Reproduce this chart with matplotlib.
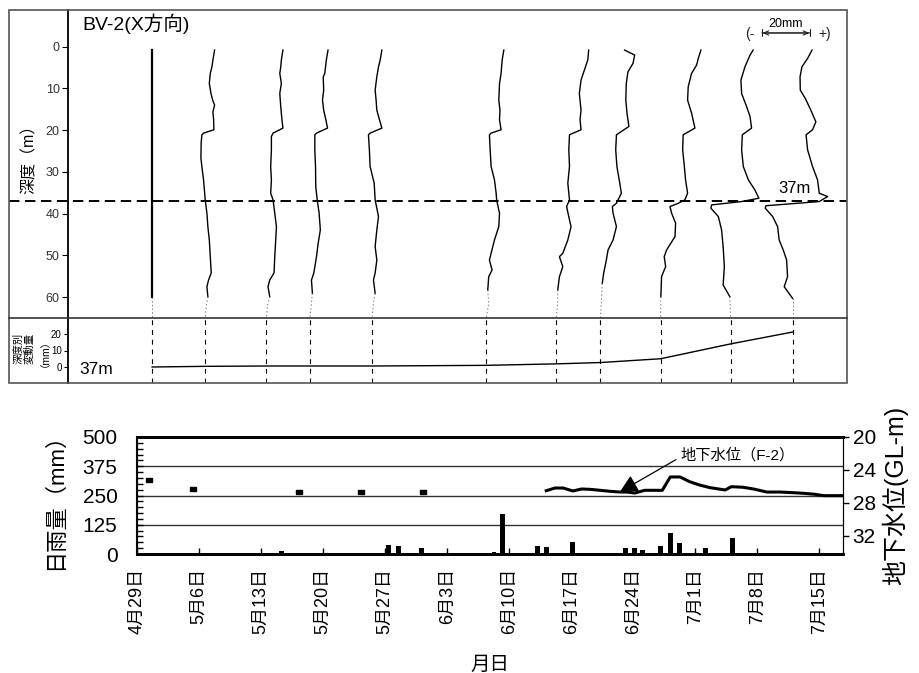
import matplotlib
matplotlib.use("Agg")
import matplotlib.pyplot as plt
from matplotlib.patches import Rectangle
from matplotlib.lines import Line2D
from matplotlib.ticker import MultipleLocator
from matplotlib.transforms import blended_transform_factory
import numpy as np

plt.rcParams['font.family'] = ['Liberation Sans', 'Noto Sans CJK JP', 'DejaVu Sans']
plt.rcParams['lines.scale_dashes'] = False

# ---------------- data ----------------
# measurement dates (days after 4/29)
meas_days = [1.7, 7.7, 14.6, 19.5, 26.5, 39.4, 47.3, 52.3, 59.1, 67.0, 74.0]
# displacement at 37 m (mm)
disp37 = [0.0, 0.4, 0.6, 0.6, 0.6, 1.0, 1.9, 2.7, 5.0, 14.0, 21.2]

# profiles: depth (m) and cumulative displacement (mm)
p1_depth = [0.8, 60.0, 65.4]
p1_disp = [0.0, 0.0, 0.0]
p2_depth = [0.8, 3.2, 4.8, 6.4, 8.8, 11.2, 12.8, 14.0, 15.6, 17.5, 19.9, 20.7, 21.1, 23.1, 26.7, 28.7, 31.9, 36.7, 39.9, 43.1, 46.3, 50.3, 54.2, 55.9, 57.5, 59.9, 62.2, 65.4]
p2_disp = [3.9, 3.2, 2.8, 2.1, 1.7, 2.4, 3.1, 3.9, 3.2, 3.5, 3.6, -0.7, -1.4, -1.7, -1.8, -1.4, -0.7, 0.0, 0.7, 1.1, 1.7, 2.1, 2.5, 1.4, 0.7, 1.1, 0.4, 0.0]
p3_depth = [0.8, 3.2, 4.8, 6.4, 8.8, 11.2, 14.4, 17.5, 19.5, 20.7, 21.5, 24.7, 28.7, 31.9, 35.1, 36.7, 39.9, 43.1, 46.3, 50.3, 54.2, 55.9, 57.5, 59.9, 62.2, 65.4]
p3_disp = [6.9, 6.25, 6.0, 5.6, 6.25, 5.6, 6.0, 6.5, 6.9, 2.8, 2.1, 2.1, 1.8, 2.1, 1.8, 2.8, 3.5, 4.2, 3.9, 3.5, 3.2, 1.4, 0.7, 1.4, 0.4, 0.0]
p4_depth = [0.8, 3.2, 6.4, 7.2, 10.4, 12.8, 15.2, 17.5, 19.5, 20.7, 21.1, 24.7, 28.7, 33.5, 36.7, 39.9, 43.9, 47.1, 50.3, 54.2, 55.9, 59.1, 61.5, 65.4]
p4_disp = [7.6, 6.9, 6.25, 5.6, 5.8, 5.3, 5.8, 6.7, 7.4, 2.8, 2.1, 2.1, 2.4, 2.5, 3.1, 3.9, 4.4, 3.5, 2.8, 1.7, 0.7, 1.1, 0.7, 0.0]
p5_depth = [0.8, 3.2, 4.8, 7.2, 10.4, 12.8, 15.2, 17.5, 19.5, 20.7, 21.1, 24.7, 28.7, 32.7, 36.7, 40.7, 43.9, 47.9, 51.1, 54.2, 55.9, 59.1, 61.5, 65.4]
p5_disp = [4.2, 3.5, 2.8, 2.1, 1.4, 1.8, 2.1, 3.2, 4.2, -0.7, -1.4, -1.0, -0.7, 1.0, 1.4, 2.8, 2.1, 1.4, 2.1, 1.4, 0.7, 1.4, 0.7, 0.0]
p6_depth = [0.8, 3.2, 6.4, 8.8, 12.8, 15.2, 17.5, 19.9, 20.7, 21.1, 24.7, 28.7, 31.9, 35.1, 36.7, 39.9, 43.1, 46.3, 49.5, 51.1, 53.5, 55.1, 58.3, 61.5, 65.4]
p6_disp = [7.4, 6.7, 6.25, 5.6, 5.3, 5.8, 5.6, 6.25, 2.1, 1.4, 1.7, 2.1, 3.5, 4.2, 4.4, 5.6, 5.3, 3.5, 2.1, 1.4, 2.5, 1.1, 0.7, 1.1, 0.0]
p7_depth = [0.8, 3.2, 5.6, 8.0, 11.2, 15.2, 17.5, 19.9, 21.1, 24.7, 28.7, 32.7, 36.7, 38.3, 41.5, 43.1, 46.3, 49.5, 50.3, 52.7, 55.1, 58.3, 61.5, 65.4]
p7_disp = [13.6, 13.2, 11.8, 10.4, 9.7, 10.4, 10.0, 10.4, 5.6, 5.3, 5.6, 4.9, 5.6, 4.4, 5.6, 6.25, 4.9, 2.8, 1.4, 2.8, 1.4, 0.7, 0.7, 0.0]
p8_depth = [0.8, 2.0, 4.0, 6.0, 8.8, 12.8, 15.9, 19.1, 21.1, 24.7, 28.7, 32.7, 35.1, 37.5, 38.3, 39.9, 43.1, 46.3, 48.7, 51.1, 54.2, 56.7, 61.5, 65.4]
p8_disp = [10.1, 14.3, 13.6, 11.5, 10.8, 10.6, 11.1, 11.9, 6.7, 6.4, 6.9, 8.1, 8.75, 6.7, 5.0, 5.3, 6.7, 5.3, 3.2, 2.5, 1.4, 0.8, 0.4, 0.0]
p9_depth = [0.8, 2.8, 4.4, 6.4, 9.6, 12.8, 15.9, 19.5, 21.1, 24.7, 28.7, 31.9, 35.1, 36.7, 37.5, 38.3, 39.9, 42.3, 45.5, 48.7, 50.3, 52.7, 55.1, 59.9, 65.4]
p9_disp = [16.8, 15.7, 15.0, 12.9, 11.5, 11.25, 12.9, 14.3, 9.4, 9.2, 9.9, 10.4, 11.25, 10.1, 7.4, 3.9, 4.6, 6.25, 6.0, 2.5, 1.5, 2.1, 0.4, 0.1, 0.0]
p10_depth = [0.8, 2.0, 4.8, 8.0, 11.2, 14.4, 16.7, 19.5, 21.1, 24.7, 28.7, 31.9, 34.3, 36.3, 37.1, 37.9, 38.7, 40.7, 43.9, 47.9, 52.7, 57.1, 59.9, 65.4]
p10_disp = [9.4, 8.1, 6.0, 4.3, 4.6, 6.7, 8.1, 8.75, 4.9, 4.6, 5.3, 7.4, 10.1, 11.8, 4.6, -7.9, -8.2, -5.1, -3.75, -3.1, -2.6, -3.1, -0.3, 0.0]
p11_depth = [0.8, 2.8, 4.8, 7.2, 10.4, 12.4, 15.2, 18.0, 19.9, 21.1, 24.7, 28.7, 31.9, 35.1, 35.9, 37.1, 38.1, 38.7, 40.7, 43.1, 46.3, 48.7, 51.1, 55.1, 57.5, 60.3, 65.4]
p11_disp = [8.1, 6.25, 3.9, 3.1, 3.2, 5.3, 7.6, 9.7, 8.3, 5.6, 6.25, 8.3, 10.4, 11.1, 14.6, 11.1, -11.1, -11.4, -8.3, -6.25, -5.6, -3.9, -2.5, -2.1, -3.5, 0.0, 0.0]

profile_depths = [p1_depth, p2_depth, p3_depth, p4_depth, p5_depth, p6_depth,
                  p7_depth, p8_depth, p9_depth, p10_depth, p11_depth]
profile_disps = [p1_disp, p2_disp, p3_disp, p4_disp, p5_disp, p6_disp,
                 p7_disp, p8_disp, p9_disp, p10_disp, p11_disp]

# daily rainfall
rain_day = [3.4, 8.3, 9.4, 16.3, 19.3, 21.4, 28.4, 29.5, 32.1, 40.3, 41.3, 42.1, 43.2, 44.3,
            45.2, 46.2, 49.2, 50.2, 54.1, 55.1, 56.2, 57.1, 59.1, 60.2, 61.2, 64.2, 67.2, 69.1]
rain_mm = [2, 2, 2, 14, 2, 2, 40, 36, 25, 7, 172, 3, 5, 3,
           35, 31, 53, 4, 3, 26, 26, 15, 35, 90, 47, 26, 67, 6]

# groundwater level F-2 (GL-m)
gw_day = [46.2, 47.2, 48.1, 49.2, 50.2, 51.1, 52.3, 53.4, 54.5, 55.3, 56.2, 57.3, 58.3, 59.3,
          60.2, 61.3, 62.4, 63.5, 64.7, 66.4, 67.1, 68.4, 69.6, 71.1, 72.6, 74.1, 75.2, 76.5, 77.5, 79.7]
gw_level = [26.52, 26.19, 26.19, 26.55, 26.31, 26.35, 26.47, 26.59, 26.68, 26.68, 26.80, 26.47, 26.47, 26.47,
            24.85, 24.85, 25.43, 25.83, 26.15, 26.43, 26.03, 26.10, 26.31, 26.68, 26.68, 26.76, 26.83, 26.95, 27.12, 27.12]
gw_sq_day = [1.3, 6.3, 18.3, 25.3, 32.3]
gw_sq_level = [25.26, 26.31, 26.71, 26.71, 26.71]

xtick_days = [0, 7, 14, 21, 28, 35, 42, 49, 56, 63, 70, 77]
xtick_labels = ["4月29日", "5月6日", "5月13日", "5月20日", "5月27日", "6月3日",
                "6月10日", "6月17日", "6月24日", "7月1日", "7月8日", "7月15日"]

# ---------------- layout ----------------
W, H = 919, 673
fig = plt.figure(figsize=(W / 100, H / 100), dpi=100)


def fx(px):
    return px / W


def fy(py):
    return 1 - py / H


MM2DAY = 2.4 / 8.86  # horizontal scale of profile displacement
TOP_XLIM = (-7.79, 80.14)

axp = fig.add_axes([fx(68), fy(318), fx(847) - fx(68), fy(10) - fy(318)])
axs = fig.add_axes([fx(68), fy(383), fx(847) - fx(68), fy(318) - fy(383)])

# outer frame and separator
fig.add_artist(Rectangle((fx(9), fy(383)), fx(847) - fx(9), fy(10) - fy(383),
                         transform=fig.transFigure, fill=False, ec='#555555', lw=1.2))
fig.add_artist(Line2D([fx(9), fx(847)], [fy(318), fy(318)], transform=fig.transFigure,
                      color='#333333', lw=1.2))

for ax in (axp, axs):
    ax.set_xlim(*TOP_XLIM)
    ax.set_xticks([])
    for s in ('top', 'right', 'bottom'):
        ax.spines[s].set_visible(False)
    ax.spines['left'].set_linewidth(1.3)
    ax.patch.set_alpha(0)

# profiles
axp.set_ylim(65, -8.8)
axp.set_yticks([0, 10, 20, 30, 40, 50, 60])
axp.tick_params(axis='y', direction='out', length=4, width=0.8, labelsize=9,
                labelcolor='#333333', pad=2)
for i, (day, dep, dsp) in enumerate(zip(meas_days, profile_depths, profile_disps)):
    dep = np.array(dep, dtype=float)
    xs = day + np.array(dsp, dtype=float) * MM2DAY
    solid = np.where(dep <= 60.5)[0]
    last = solid[-1]
    axp.plot(xs[:last + 1], dep[:last + 1], color='black', lw=1.6 if i == 0 else 1.0)
    axp.plot(xs[last:], dep[last:], color='#777777', lw=0.7, ls=':')

# 37 m dashed line
tr = blended_transform_factory(fig.transFigure, axp.transData)
axp.add_line(Line2D([fx(9), fx(847)], [37, 37], transform=tr, color='black', lw=1.4,
                    dashes=(7.5, 4), clip_on=False))
axp.text(74.2, 34.0, "37m", fontsize=12, ha='center', va='center')
axp.text(-6.2, -5.5, "BV-2(X方向)", fontsize=14, ha='left', va='center')
fig.text(fx(29), fy(155), "深度（m）", rotation=90, fontsize=11.5, ha='center', va='center')

# scale bar
sb_x0 = 70.54
axp.annotate("", xy=(sb_x0 + 20 * MM2DAY, -3.3), xytext=(sb_x0, -3.3),
             arrowprops=dict(arrowstyle='|-|,widthA=0.25,widthB=0.25', lw=0.8, color='#222222',
                             shrinkA=0, shrinkB=0))
axp.annotate("", xy=(sb_x0 + 20 * MM2DAY - 0.05, -3.3), xytext=(sb_x0 + 0.05, -3.3),
             arrowprops=dict(arrowstyle='<->,head_length=0.35,head_width=0.15', lw=0.8,
                             color='#222222', shrinkA=0, shrinkB=0))
axp.text(sb_x0 + 10 * MM2DAY, -5.4, "20mm", fontsize=9, ha='center', va='center')
axp.text(69.2, -3.0, "(-", fontsize=10, ha='center', va='center', color='#222222')
axp.text(77.65, -3.0, "+)", fontsize=10, ha='center', va='center', color='#222222')

# displacement at 37 m panel
axs.set_ylim(-9.7, 29.7)
axs.set_yticks([0, 10, 20])
axs.tick_params(axis='y', direction='out', length=3, width=0.8, labelsize=7, pad=1.5)
for d in meas_days:
    axs.axvline(d, color='black', lw=0.8, dashes=(3.5, 3.5))
axs.plot(meas_days, disp37, color='black', lw=1.0)
axs.text(-4.6, -1.8, "37m", fontsize=12.5, ha='center', va='center')
fig.text(fx(29), fy(348), "深度別\n変動量\n（mm）", rotation=90, fontsize=7.5,
         ha='center', va='center', multialignment='center', linespacing=1.05)

# ---------------- rainfall / groundwater ----------------
axr = fig.add_axes([fx(137), fy(554), fx(843) - fx(137), fy(437) - fy(554)])
axr.bar(rain_day, rain_mm, width=0.55, color='black', zorder=3)
axr.set_xlim(0, 79.7)
axr.set_ylim(0, 500)
axr.set_yticks([0, 125, 250, 375, 500])
axr.yaxis.set_minor_locator(MultipleLocator(25))
axr.tick_params(axis='y', which='both', direction='in', length=4.5, width=1.0,
                labelsize=15, pad=14)
for v in (125, 250, 375):
    axr.axhline(v, color='#333333', lw=1.0, zorder=1)
axr.set_xticks(xtick_days)
axr.set_xticklabels(xtick_labels, rotation=90, fontsize=13)
axr.tick_params(axis='x', direction='in', length=4.5, width=1.0, pad=10)
axr.spines['top'].set_linewidth(2)
axr.spines['bottom'].set_linewidth(2)
axr.spines['left'].set_linewidth(1.5)
axr.set_ylabel("日雨量（mm）", fontsize=16, labelpad=12)
axr.set_xlabel("月日", fontsize=14, labelpad=16)

axg = axr.twinx()
axg.set_ylim(34.2, 20)
axg.set_yticks([20, 24, 28, 32])
axg.tick_params(axis='y', direction='out', length=4, width=1.0, labelsize=15, pad=3)
axg.spines['top'].set_linewidth(2)
axg.spines['bottom'].set_linewidth(2)
axg.plot(gw_day, gw_level, color='black', lw=2.2)
rect_marker = [(-1.5, -1), (1.5, -1), (1.5, 1), (-1.5, 1), (-1.5, -1)]
axg.plot(gw_sq_day, gw_sq_level, ls='none', marker=rect_marker, ms=5, color='black')
axg.set_ylabel("地下水位(GL-m)", fontsize=18, labelpad=4)
axg.annotate("地下水位（F-2）", xy=(54.5, 26.68), xytext=(61.3, 22.2), fontsize=11,
             ha='left', va='center',
             arrowprops=dict(arrowstyle='-|>,head_length=1.0,head_width=0.5', lw=0.9,
                             color='black', relpos=(0, 0.35), shrinkA=1, shrinkB=0))

fig.savefig("out.png", dpi=100)
